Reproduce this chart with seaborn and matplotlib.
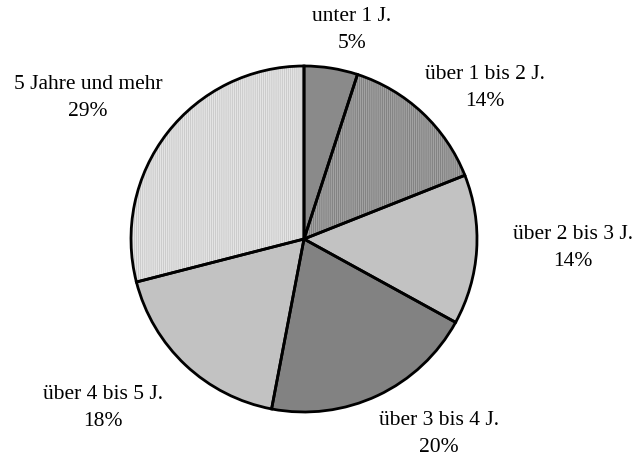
import numpy as np
import matplotlib
matplotlib.use("Agg")
import matplotlib.pyplot as plt
import seaborn as sns

categories = ["unter 1 J.", "über 1 bis 2 J.", "über 2 bis 3 J.",
              "über 3 bis 4 J.", "über 4 bis 5 J.", "5 Jahre und mehr"]
shares = [5, 14, 14, 20, 18, 29]

face_colors = ["#8a8a8a", "#a2a2a2", "#c2c2c2", "#828282", "#c2c2c2", "#e4e4e4"]
hatches = [None, "|" * 8, None, None, None, "|" * 8]
hatch_colors = [None, "#767676", None, None, None, "#c2c2c2"]

# label block centres in pixels (from the top-left corner)
label_px = [(352, 30), (485, 88), (573, 248), (439, 434), (103, 408), (88, 98)]

sns.set_style("white")
plt.rcParams["font.family"] = ["Liberation Serif", "DejaVu Serif"]
plt.rcParams["hatch.linewidth"] = 0.5

W, H = 635, 458
cx, cy, r = 304, 239, 173

fig = plt.figure(figsize=(W / 100, H / 100), dpi=100)
ax = fig.add_axes([0, 0, 1, 1])

ax.pie(shares, colors=face_colors, startangle=90, counterclock=False,
       wedgeprops=dict(linewidth=0))
hatch_wedges, _ = ax.pie(shares, startangle=90, counterclock=False,
                         wedgeprops=dict(fill=False, linewidth=0))
for w, h, hc in zip(hatch_wedges, hatches, hatch_colors):
    if h:
        w.set_hatch(h)
        w.set_edgecolor(hc)
    else:
        w.set_visible(False)
ax.pie(shares, startangle=90, counterclock=False,
       wedgeprops=dict(fill=False, edgecolor="black", linewidth=2.0))

ax.set_aspect("auto")
ax.set_xlim(-cx / r, (W - cx) / r)
ax.set_ylim(-(H - cy) / r, cy / r)
ax.axis("off")

for cat, val, (px, py) in zip(categories, shares, label_px):
    ax.text((px - cx) / r, (cy - py) / r, f"{cat}\n{val}%", ha="center",
            va="center", fontsize=15.5, linespacing=1.55, color="black")

fig.savefig("out.png", dpi=100)
